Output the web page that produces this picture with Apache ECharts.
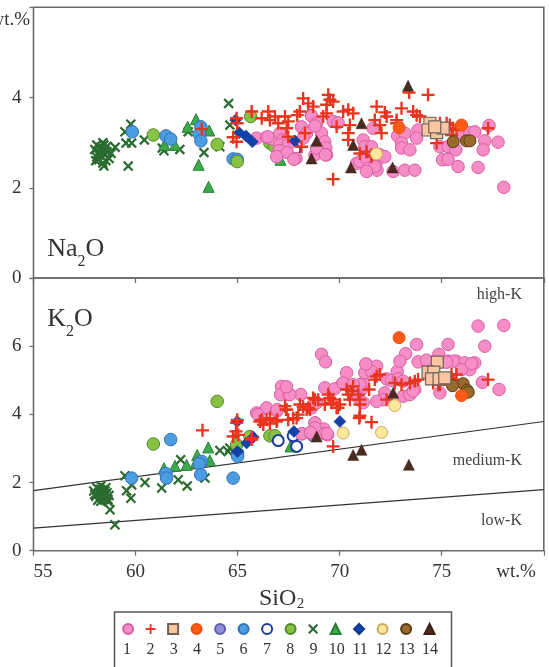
<!DOCTYPE html>
<html><head><meta charset="utf-8">
<script src="https://cdn.jsdelivr.net/npm/echarts/dist/echarts.min.js"></script>
<style>html,body{margin:0;padding:0;background:#fff}#c{width:549px;height:667px}</style>
</head><body><div id="c"></div>
<script>
// ---------- tick labels / categories ----------
const siLabels = ['55', '60', '65', '70', '75', 'wt.%'];
const naLabels = ['0', '2', '4'];
const kLabels = ['0', '2', '4', '6'];
const groupNames = ['1','2','3','4','5','6','7','8','9','10','11','12','13','14'];

// ---------- boundary lines (K2O panel) ----------
const lineHighMed = [[55, 1.76], [80, 3.79]];
const lineMedLow = [[55, 0.66], [80, 1.79]];

// ---------- group 1 ----------
const g1Na = [[65.93,3.10],[66.42,3.12],[66.71,3.08],[67.07,3.21],[67.20,3.06],[67.07,2.95],[67.48,2.95],[67.04,2.82],[67.43,2.78],[67.86,2.65],[66.91,2.69],[68.62,3.59],[68.87,3.43],[68.13,3.35],[68.38,3.21],[68.21,3.10],[69.11,3.21],[69.27,3.02],[69.32,2.88],[69.36,2.73],[68.79,2.73],[68.87,2.88],[69.68,3.47],[69.92,3.44],[70.83,2.54],[70.99,2.58],[71.32,2.65],[71.15,3.06],[71.23,2.91],[71.56,2.91],[71.40,2.43],[71.81,2.58],[71.64,3.32],[71.83,2.39],[72.84,3.15],[73.19,3.21],[73.84,3.28],[73.77,3.10],[73.03,2.99],[73.03,2.88],[73.44,2.84],[74.91,2.91],[75.31,2.91],[75.69,2.84],[75.04,2.62],[75.31,2.63],[75.80,2.47],[76.78,2.45],[76.05,3.17],[76.38,3.22],[76.62,3.24],[77.11,3.04],[77.03,2.84],[77.76,3.01],[77.32,3.38],[78.04,2.01],[71.97,2.73],[72.21,2.69],[71.72,2.47],[72.62,2.36],[73.19,2.39],[73.68,2.39],[66.48,3.13],[67.76,2.63],[68.79,3.37],[69.30,2.73],[71.32,2.36]];
const g1K = [[67.15,4.82],[67.10,4.58],[67.53,4.58],[68.09,4.58],[65.93,4.04],[66.42,4.19],[66.91,4.09],[68.16,3.43],[68.79,3.75],[69.11,5.76],[69.31,5.54],[70.34,5.22],[70.14,4.90],[69.27,4.78],[69.76,4.75],[71.15,4.92],[71.07,4.73],[67.56,4.58],[66.00,3.99],[66.94,4.14],[68.62,4.19],[68.87,4.34],[69.23,3.57],[68.79,3.60],[68.13,3.43],[69.27,3.43],[69.41,3.40],[76.78,6.59],[78.04,6.61],[73.77,6.05],[75.31,6.05],[77.11,6.00],[73.23,5.78],[74.86,5.76],[73.84,5.54],[74.25,5.59],[75.31,5.56],[75.72,5.56],[76.13,5.51],[76.62,5.51],[76.37,5.31],[75.97,5.31],[71.32,5.46],[71.81,5.41],[71.23,5.22],[71.56,5.26],[72.82,5.26],[72.30,5.04],[72.54,4.99],[72.87,5.04],[73.11,4.97],[72.21,4.63],[73.11,4.53],[73.44,4.58],[73.68,4.73],[74.91,4.63],[76.99,4.94],[77.81,4.73],[70.99,4.87],[72.13,4.43],[72.95,5.56],[71.28,5.48],[67.40,4.81],[70.17,4.92],[70.66,4.87],[71.81,4.38],[73.60,4.68],[70.83,4.53],[71.15,4.34],[76.46,5.49],[75.56,5.56],[75.24,5.53],[68.57,3.47],[69.39,3.43]];

// ---------- group 2 ----------
const g2Na = [[63.24,3.30],[64.95,3.54],[64.98,3.43],[64.78,3.12],[64.95,3.02],[65.69,3.69],[66.18,3.54],[66.50,3.69],[66.58,3.50],[66.83,3.58],[66.99,3.43],[67.32,3.58],[67.48,3.47],[67.40,3.32],[68.05,3.69],[67.92,3.61],[68.21,3.98],[68.46,3.87],[68.70,3.80],[69.44,4.06],[69.52,3.95],[69.36,3.84],[69.68,3.91],[69.19,3.58],[69.36,3.65],[70.17,3.69],[70.42,3.73],[70.66,3.65],[69.85,3.35],[70.50,3.39],[70.42,3.21],[70.42,3.06],[71.81,3.80],[71.72,3.50],[70.99,2.76],[71.32,2.80],[71.56,2.73],[69.68,2.19],[68.13,2.91],[67.48,3.13],[68.30,3.21],[73.40,4.11],[74.33,4.06],[72.21,3.67],[72.30,3.58],[73.03,3.76],[73.60,3.69],[73.77,3.61],[73.93,3.58],[71.97,3.39],[72.05,3.21],[72.79,3.50],[72.79,3.43],[77.27,3.32],[74.75,2.99],[75.56,3.32],[75.72,3.28],[75.40,3.39],[75.24,3.43],[74.91,3.43],[75.48,3.17],[71.56,2.69]];
const g2K = [[63.28,3.53],[64.98,3.84],[64.78,3.35],[65.03,3.40],[64.92,3.50],[65.69,3.31],[66.18,3.84],[66.58,3.89],[66.94,3.84],[66.26,3.70],[66.58,3.73],[67.32,4.24],[67.37,4.14],[67.48,3.84],[67.89,3.89],[68.05,4.29],[68.21,4.22],[68.38,4.14],[68.70,4.48],[68.95,4.43],[68.54,4.14],[69.44,4.58],[69.52,4.48],[69.68,4.43],[69.27,4.29],[69.85,4.19],[70.01,4.29],[70.34,4.73],[70.66,4.82],[70.42,4.58],[70.99,4.29],[70.91,4.58],[69.68,3.06],[71.56,3.77],[70.99,3.96],[70.96,3.89],[70.99,4.43],[71.44,4.73],[71.81,5.12],[71.97,5.17],[71.72,5.02],[72.30,4.43],[72.70,4.92],[73.03,4.87],[73.44,4.92],[73.68,4.97],[73.84,5.02],[74.58,4.92],[74.83,4.87],[75.07,5.02],[75.48,5.17],[75.56,5.02],[75.64,4.92],[75.72,5.17],[74.91,4.87],[77.27,5.02],[70.58,4.68],[70.50,4.43],[69.60,4.34],[69.92,4.19],[67.97,3.99],[67.40,4.14],[67.72,3.89],[64.95,3.75],[66.09,3.79],[66.42,3.84],[66.91,3.79],[68.46,4.19],[68.79,4.43],[65.69,3.26]];

// ---------- group 3 ----------
const g3Na = [[74.42,3.43],[74.33,3.28],[74.75,3.22],[75.07,3.32],[74.66,3.35]];
const g3K = [[74.78,5.53],[74.33,5.24],[74.61,5.24],[74.50,5.04],[74.87,5.04],[75.15,5.07]];
// ---------- group 4 ----------
const g4Na = [[72.91,3.33],[75.97,3.39]];
const g4K = [[72.91,6.25],[75.97,4.55]];
// ---------- group 5 ----------
const g5Na = [[68.60,3.61],[67.30,2.97]];
const g5K = [[68.79,3.75],[68.70,3.37],[69.27,3.50]];
// ---------- group 6 ----------
const g6Na = [[59.84,3.24],[61.49,3.15],[61.72,3.08],[63.20,3.35],[63.12,3.19],[63.20,3.04],[64.78,2.64],[64.98,2.63]];
const g6K = [[59.81,2.13],[61.72,3.26],[61.49,2.26],[61.52,2.13],[63.24,2.62],[63.12,2.55],[63.19,2.23],[64.78,2.13],[65.00,2.86],[65.00,2.77]];
// ---------- group 7 ----------
const g7Na = [[67.80,2.84]];
const g7K = [[66.99,3.23],[67.72,3.37],[67.89,3.06]];
// ---------- group 8 ----------
const g8Na = [[60.87,3.17],[64.00,2.96],[64.98,2.58],[65.64,3.58],[66.58,2.99],[66.80,2.92]];
const g8K = [[60.87,3.13],[64.00,4.38],[66.58,3.37],[66.83,3.37],[64.95,3.11],[65.60,3.35]];
// ---------- group 9 ----------
const g9Na = [[58.0,2.85],[58.1,2.95],[58.2,2.78],[58.3,2.9],[58.4,3.0],[58.5,2.84],[58.3,2.7],[58.2,2.62],[58.4,2.55],[58.5,2.72],[58.6,2.92],[58.7,2.65],[58.1,2.68],[58.6,2.8],[58.35,2.82],[58.45,2.48],[58.25,2.88],[58.55,2.6],[58.15,2.75],[58.8,2.76],[58.05,2.6],[58.45,2.95],[59.0,2.9],[59.77,3.41],[59.48,3.24],[59.53,2.99],[59.81,2.99],[59.64,2.48],[60.43,3.06],[61.31,2.88],[61.39,2.82],[62.17,2.85],[62.58,3.24],[63.35,2.78],[64.13,2.91],[64.56,3.87],[64.62,3.39]];
const g9K = [[57.95,1.75],[58.05,1.6],[58.1,1.85],[58.2,1.7],[58.25,1.55],[58.3,1.9],[58.35,1.65],[58.4,1.78],[58.45,1.5],[58.5,1.62],[58.55,1.85],[58.6,1.7],[58.15,1.48],[58.4,1.58],[58.7,1.62],[58.3,1.45],[58.0,1.65],[58.5,1.75],[58.25,1.8],[58.65,1.5],[58.75,1.2],[58.66,1.44],[58.99,0.76],[59.48,2.2],[59.56,1.76],[59.81,1.93],[59.77,1.54],[60.46,2.0],[61.28,1.84],[62.09,2.08],[62.21,2.67],[62.53,1.9],[63.4,2.13],[64.13,2.94],[64.54,2.91],[64.62,3.01]];
// ---------- group 10 ----------
const g10Na = [[61.41,2.95],[61.93,2.95],[62.55,3.35],[62.96,3.52],[63.61,3.27],[63.09,2.51],[63.58,2.02],[67.10,2.62]];
const g10K = [[61.39,2.42],[61.93,2.49],[62.50,2.52],[63.02,2.81],[63.56,3.03],[63.64,2.65],[62.96,2.59],[67.59,3.06]];
// ---------- group 11 ----------
const g11Na = [[64.90,3.50],[65.08,3.22],[65.41,3.15],[65.72,3.02],[67.80,3.04]];
const g11K = [[64.98,3.79],[65.44,3.16],[65.77,3.33],[67.76,3.50],[70.01,3.79],[64.99,2.91]];
// ---------- group 12 ----------
const g12Na = [[71.80,2.75]];
const g12K = [[70.17,3.45],[72.70,4.26],[72.05,3.47]];
// ---------- group 13 ----------
const g13Na = [[76.21,3.04],[76.38,3.04],[75.56,3.02]];
const g13K = [[76.05,4.90],[76.24,4.71],[75.53,4.84],[76.30,4.65]];
// ---------- group 14 ----------
const g14Na = [[73.35,4.26],[68.87,3.04],[71.07,3.43],[70.66,2.95],[70.55,2.45],[68.62,2.65],[72.59,2.45]];
const g14K = [[68.87,3.35],[70.66,2.81],[71.07,2.96],[73.39,2.52],[72.62,4.63]];

// ---------- styles ----------
const PLUS = 'path://M4.1,0H5.9V4.1H10V5.9H5.9V10H4.1V5.9H0V4.1H4.1Z';
const CROSS = 'path://M1.5,0L5,3.5L8.5,0L10,1.5L6.5,5L10,8.5L8.5,10L5,6.5L1.5,10L0,8.5L3.5,5L0,1.5Z';
const styles = {
  '1':  {symbol:'circle', size:12.5, fill:'#F68DC7', stroke:'#D95FA2', bw:1},
  '2':  {symbol:PLUS, size:13, fill:'#E8351F', stroke:'none', bw:0},
  '3':  {symbol:'rect', size:12, fill:'#FAC6A0', stroke:'#6F625A', bw:1.2},
  '4':  {symbol:'circle', size:12, fill:'#FF5B16', stroke:'#E8500F', bw:1},
  '5':  {symbol:'circle', size:12, fill:'#8E90D4', stroke:'#5C60AE', bw:1},
  '6':  {symbol:'circle', size:12.5, fill:'#4C9CE2', stroke:'#2F70B8', bw:1},
  '7':  {symbol:'circle', size:11, fill:'#FFFFFF', stroke:'#1A3C9C', bw:2},
  '8':  {symbol:'circle', size:12.5, fill:'#88C244', stroke:'#4F8A2A', bw:1},
  '9':  {symbol:CROSS, size:10.5, fill:'#2B6B30', stroke:'none', bw:0},
  '10': {symbol:'triangle', size:11, fill:'#3BAA4A', stroke:'#2A8038', bw:1},
  '11': {symbol:'diamond', size:12, fill:'#1242A8', stroke:'#0E3590', bw:0.5},
  '12': {symbol:'circle', size:12, fill:'#FCE79A', stroke:'#C9A862', bw:1},
  '13': {symbol:'circle', size:12, fill:'#9A6A2C', stroke:'#5A3B14', bw:1},
  '14': {symbol:'triangle', size:11, fill:'#4B2B1F', stroke:'#3A1F14', bw:0.5}
};
const dataByGroup = {
  '1':[g1Na,g1K],'2':[g2Na,g2K],'3':[g3Na,g3K],'4':[g4Na,g4K],'5':[g5Na,g5K],'6':[g6Na,g6K],'7':[g7Na,g7K],
  '8':[g8Na,g8K],'9':[g9Na,g9K],'10':[g10Na,g10K],'11':[g11Na,g11K],'12':[g12Na,g12K],'13':[g13Na,g13K],'14':[g14Na,g14K]
};
const drawOrder = ['9','10','6','8','5','7','1','11','2','14','12','13','4','3'];

const FONT = 'Liberation Serif';
const TXT = '#333';
const AX = '#6a6a6a';

const series = [];
series.push({type:'line', xAxisIndex:1, yAxisIndex:1, data: lineHighMed, symbol:'none', silent:true,
  lineStyle:{color:'#333', width:1.2}, z:1, animation:false});
series.push({type:'line', xAxisIndex:1, yAxisIndex:1, data: lineMedLow, symbol:'none', silent:true,
  lineStyle:{color:'#333', width:1.2}, z:1, animation:false});
drawOrder.forEach(function(g){
  const s = styles[g];
  [0,1].forEach(function(gi){
    series.push({
      type:'scatter', name:g, xAxisIndex:gi, yAxisIndex:gi, data:dataByGroup[g][gi],
      symbol:s.symbol, symbolSize:s.size,
      itemStyle:{color:s.fill, borderColor:s.stroke, borderWidth:s.bw, opacity:1},
      emphasis:{disabled:true}, silent:true, animation:false, z:2
    });
  });
});

// legend numbers under icons
const LEG_X0 = 127.1, LEG_STEP = 23.3;
const graphics = [
  {type:'rect', shape:{x:114.5, y:612, width:337, height:70}, style:{fill:'#fff', stroke:'#555', lineWidth:1.5}, z:0, silent:true},
  {type:'text', x:30, y:20, style:{text:'wt.%', font:'19px "Liberation Serif"', fill:TXT, align:'right', verticalAlign:'middle', textAlign:'right', textVerticalAlign:'middle'}},
  {type:'text', x:47.3, y:249.5, style:{text:'Na', font:'26px "Liberation Serif"', fill:TXT, align:'left', verticalAlign:'middle'}},
  {type:'text', x:77.6, y:261.6, style:{text:'2', font:'16px "Liberation Serif"', fill:TXT, align:'left', verticalAlign:'middle'}},
  {type:'text', x:85.6, y:249.5, style:{text:'O', font:'26px "Liberation Serif"', fill:TXT, align:'left', verticalAlign:'middle'}},
  {type:'text', x:47.3, y:319.5, style:{text:'K', font:'26px "Liberation Serif"', fill:TXT, align:'left', verticalAlign:'middle'}},
  {type:'text', x:66.1, y:331.6, style:{text:'2', font:'16px "Liberation Serif"', fill:TXT, align:'left', verticalAlign:'middle'}},
  {type:'text', x:74.1, y:319.5, style:{text:'O', font:'26px "Liberation Serif"', fill:TXT, align:'left', verticalAlign:'middle'}},
  {type:'text', x:259, y:598.5, style:{text:'SiO', font:'24px "Liberation Serif"', fill:TXT, align:'left', verticalAlign:'middle'}},
  {type:'text', x:296.8, y:604.5, style:{text:'2', font:'15px "Liberation Serif"', fill:TXT, align:'left', verticalAlign:'middle'}},
  {type:'text', x:522, y:295, style:{text:'high-K', font:'16px "Liberation Serif"', fill:'#444', align:'right', verticalAlign:'middle'}},
  {type:'text', x:522, y:460.5, style:{text:'medium-K', font:'16px "Liberation Serif"', fill:'#444', align:'right', verticalAlign:'middle'}},
  {type:'text', x:522, y:520.5, style:{text:'low-K', font:'16px "Liberation Serif"', fill:'#444', align:'right', verticalAlign:'middle'}}
];
groupNames.forEach(function(n, i){
  graphics.push({type:'text', x: LEG_X0 + i*LEG_STEP, y:650,
    style:{text:n, font:'16px "Liberation Serif"', fill:TXT, align:'center', verticalAlign:'middle'}, z:5});
});

const axisLabelBase = {fontFamily:FONT, fontSize:19, color:TXT};
const option = {
  animation:false,
  backgroundColor:'#fff',
  grid:[
    {left:33.5, right:5.2, top:7.3, height:270.7, show:true, borderColor:AX, borderWidth:1.6, backgroundColor:'transparent', containLabel:false, outerBoundsMode:'none'},
    {left:33.5, right:5.2, top:278, height:272.7, show:true, borderColor:AX, borderWidth:1.6, backgroundColor:'transparent', containLabel:false, outerBoundsMode:'none'}
  ],
  xAxis:[
    {gridIndex:0, type:'value', min:55, max:80, interval:5,
      axisLine:{show:false}, axisTick:{show:true, inside:false, length:5, lineStyle:{color:AX, width:1.2}},
      axisLabel:{show:false}, splitLine:{show:false}},
    {gridIndex:1, type:'value', min:55, max:80, interval:5,
      axisLine:{show:false}, axisTick:{show:true, inside:false, length:5, lineStyle:{color:AX, width:1.2}},
      axisLabel:Object.assign({}, axisLabelBase, {margin:11.5, showMinLabel:true, showMaxLabel:true,
        alignMinLabel:'left', alignMaxLabel:'right',
        formatter:function(v){ const l = siLabels[Math.round((v-55)/5)]; return v === 80 ? '{w|' + l + '}' : l; },
        rich:{w:{fontFamily:FONT, fontSize:19, color:TXT, padding:[0,8,0,0]}}}),
      splitLine:{show:false}}
  ],
  yAxis:[
    {gridIndex:0, type:'value', min:0, max:6, interval:2,
      axisLine:{show:false}, axisTick:{show:true, length:4, lineStyle:{color:AX, width:1.2}},
      axisLabel:Object.assign({}, axisLabelBase, {margin:12, formatter:function(v){ return naLabels[Math.round(v/2)] || ''; }}),
      splitLine:{show:false}},
    {gridIndex:1, type:'value', min:0, max:8, interval:2,
      axisLine:{show:false}, axisTick:{show:true, length:4, lineStyle:{color:AX, width:1.2}},
      axisLabel:Object.assign({}, axisLabelBase, {margin:12, formatter:function(v){ return kLabels[Math.round(v/2)] || ''; }}),
      splitLine:{show:false}}
  ],
  legend:{data:groupNames, left:LEG_X0-5, top:623, itemWidth:10, itemHeight:10, itemGap:11.5, padding:0,
    formatter:function(){ return ''; }, selectedMode:false, textStyle:{fontSize:1}, z:4},
  graphic:graphics,
  series:series
};
const chart = echarts.init(document.getElementById('c'));
chart.setOption(option);
</script></body></html>
